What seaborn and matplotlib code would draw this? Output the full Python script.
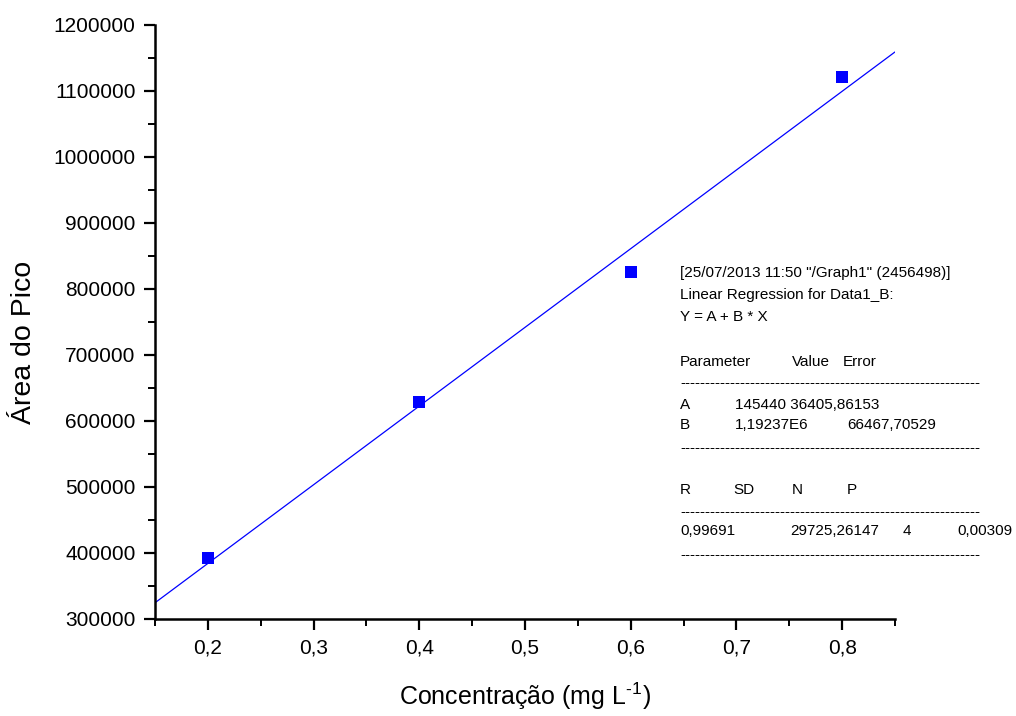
import numpy as np
import pandas as pd
import matplotlib
matplotlib.use("Agg")
import matplotlib.pyplot as plt
from matplotlib.ticker import MultipleLocator, FuncFormatter
import seaborn as sns

# ---- data ----
concentracao = [0.2, 0.4, 0.6, 0.8]
area_pico = [392000, 628500, 826000, 1121000]

x_ticks = [0.2, 0.3, 0.4, 0.5, 0.6, 0.7, 0.8]
y_ticks = [300000, 400000, 500000, 600000, 700000, 800000, 900000,
           1000000, 1100000, 1200000]

header_lines = ['[25/07/2013 11:50 "/Graph1" (2456498)]',
                'Linear Regression for Data1_B:',
                'Y = A + B * X']
param_header = ['Parameter', 'Value', 'Error']
row_a = ['A', '145440 36405,86153']
row_b = ['B', '1,19237E6', '66467,70529']
stat_header = ['R', 'SD', 'N', 'P']
stat_values = ['0,99691', '29725,26147', '4', '0,00309']

sns.set_theme(style="ticks")
plt.rcParams['font.family'] = ['Liberation Sans', 'DejaVu Sans']
plt.rcParams['mathtext.fontset'] = 'custom'
plt.rcParams['mathtext.rm'] = 'Liberation Sans'
plt.rcParams['mathtext.it'] = 'Liberation Sans'

df = pd.DataFrame({'x': concentracao, 'y': area_pico})

W, H = 1016, 716
fig = plt.figure(figsize=(W / 100, H / 100), dpi=100)
ax = fig.add_axes([155 / W, 1 - 619 / H, (895 - 155) / W, (619 - 25) / H])

ax.set_xlim(0.15, 0.85)
ax.set_ylim(300000, 1200000)

sns.regplot(data=df, x='x', y='y', ax=ax, scatter=False, ci=None,
            truncate=False, line_kws=dict(color='#0000ff', lw=0.9))
sns.scatterplot(data=df, x='x', y='y', ax=ax, marker='s', s=70,
                color='#0000ff', edgecolor='none', zorder=5)
ax.set_xlim(0.15, 0.85)
ax.set_ylim(300000, 1200000)

ax.set_xticks(x_ticks)
ax.set_yticks(y_ticks)
ax.xaxis.set_minor_locator(MultipleLocator(0.05))
ax.yaxis.set_minor_locator(MultipleLocator(50000))
ax.xaxis.set_major_formatter(FuncFormatter(lambda v, p: f"{v:.1f}".replace('.', ',')))
ax.yaxis.set_major_formatter(FuncFormatter(lambda v, p: f"{int(round(v))}"))

ax.tick_params(axis='both', which='major', direction='out', length=8, width=1.6,
               labelsize=15, color='black', labelcolor='black', pad=6)
ax.tick_params(axis='both', which='minor', direction='out', length=5, width=1.4,
               color='black')
for s in ['top', 'right']:
    ax.spines[s].set_visible(False)
for s in ['left', 'bottom']:
    ax.spines[s].set_linewidth(1.8)
    ax.spines[s].set_color('black')

ax.set_xlabel(r'Concentração (mg L$^{\text{-}1}$)', fontsize=18, labelpad=17,
              color='black')
ax.set_ylabel('Área do Pico', fontsize=20.5, labelpad=12, color='black')
ax.yaxis.label.set_y(0.466)

# ---- regression report text ----
fs = 11
def put(px, py, s):
    fig.text(px / W, 1 - py / H, s, fontsize=fs, ha='left', va='center',
             color='black')

dashes = '-' * 60
ys = [273, 295, 317]
for yy, s in zip(ys, header_lines):
    put(680, yy, s)
for xx, s in zip([680, 792, 843], param_header):
    put(xx, 362, s)
put(680, 383, dashes)
for xx, s in zip([680, 735], row_a):
    put(xx, 405, s)
for xx, s in zip([680, 735, 847], row_b):
    put(xx, 425, s)
put(680, 448, dashes)
for xx, s in zip([680, 733, 792, 847], stat_header):
    put(xx, 490, s)
put(680, 512, dashes)
for xx, s in zip([680, 790, 903, 957], stat_values):
    put(xx, 531, s)
put(680, 555, dashes)

fig.savefig('out.png', dpi=100)
